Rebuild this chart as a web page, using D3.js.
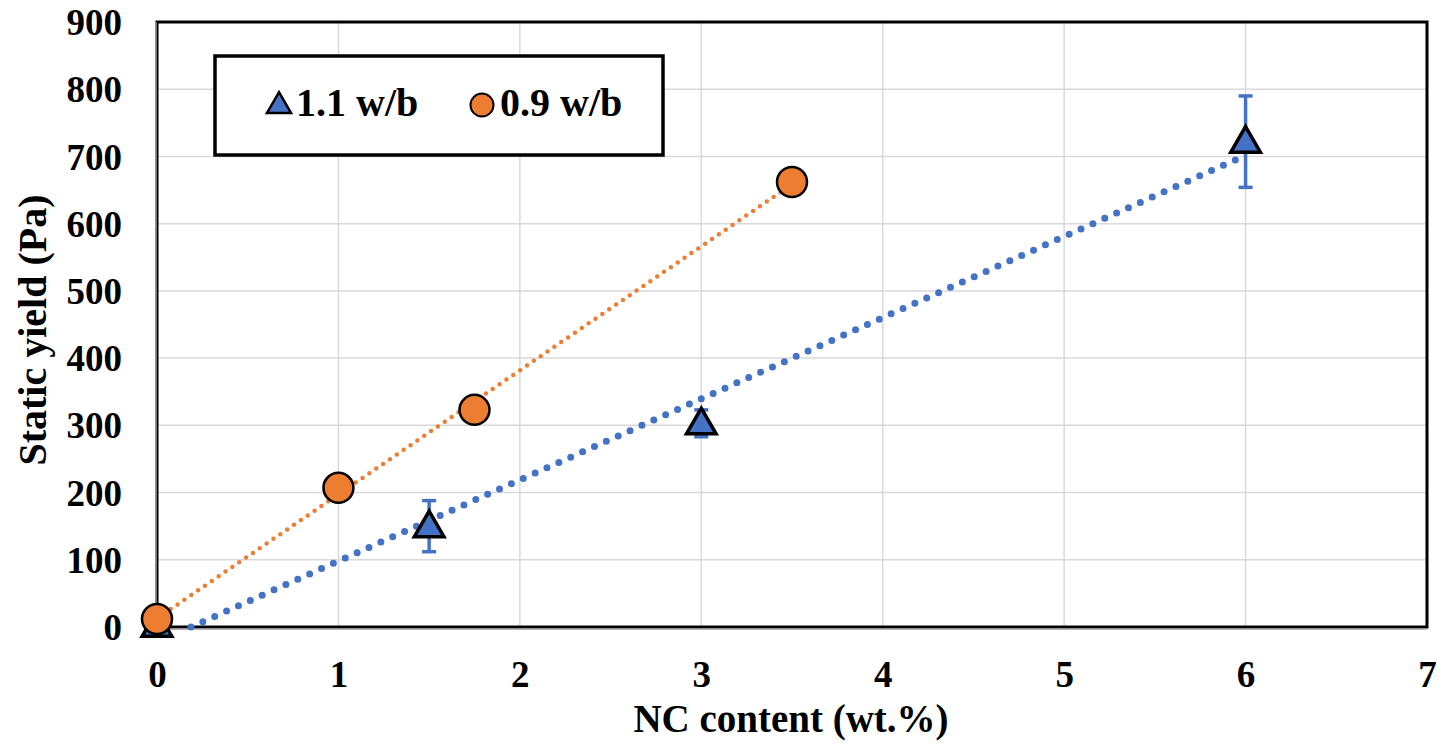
<!DOCTYPE html>
<html><head><meta charset="utf-8">
<script src="https://cdn.jsdelivr.net/npm/d3@7/dist/d3.min.js"></script>
<style>body{margin:0;background:#fff}svg{display:block}text{font-family:"Liberation Serif","DejaVu Serif",serif;font-weight:bold;fill:#000}</style>
</head><body><svg id="c" width="1452" height="744"></svg>
<script>
const xTicks = [0,1,2,3,4,5,6,7];
const yTicks = [0,100,200,300,400,500,600,700,800,900];
const series11X = [0,1.5,3,6];
const series11Y = [2,150,303,722];
const series11Err = [0,38,20,68];
const series09X = [0,1,1.75,3.5];
const series09Y = [12,207,323,662];
const seriesNames = ["1.1 w/b","0.9 w/b"];
const colors = ["#4472C4","#ED7D31"];

const svg = d3.select("#c");
const L=157,R=1427,T=22,B=627;
const x = d3.scaleLinear().domain([0,7]).range([L,R]);
const y = d3.scaleLinear().domain([0,900]).range([B,T]);

// grid
svg.append("g").selectAll("line").data(xTicks.slice(1,-1)).join("line")
 .attr("x1",d=>x(d)).attr("x2",d=>x(d)).attr("y1",T).attr("y2",B)
 .attr("stroke","#D9D9D9").attr("stroke-width",1.5);
svg.append("g").selectAll("line").data(yTicks.slice(1,-1)).join("line")
 .attr("x1",L).attr("x2",R).attr("y1",d=>y(d)).attr("y2",d=>y(d))
 .attr("stroke","#D9D9D9").attr("stroke-width",1.5);

// frame
svg.append("rect").attr("x",L).attr("y",T).attr("width",R-L).attr("height",B-T)
 .attr("fill","none").attr("stroke","#000").attr("stroke-width",3);
svg.append("line").attr("x1",L-1).attr("x2",L-1).attr("y1",T).attr("y2",B+2).attr("stroke","#999").attr("stroke-width",1.5);
svg.append("line").attr("x1",L-1).attr("x2",R).attr("y1",B+2).attr("y2",B+2).attr("stroke","#999").attr("stroke-width",1.5);

// axes labels
const fmt = d3.format("d");
const xa = d3.axisBottom(x).tickValues(xTicks).tickFormat(fmt).tickSize(0).tickPadding(0);
const gx = svg.append("g").attr("transform",`translate(0,${B})`).call(xa);
gx.select(".domain").remove();
gx.selectAll("text").attr("dy",null).attr("y",60).style("font-size","37px").style("font-family",'"Liberation Serif",serif').style("font-weight","bold");
const ya = d3.axisLeft(y).tickValues(yTicks).tickFormat(fmt).tickSize(0).tickPadding(0);
const gy = svg.append("g").attr("transform",`translate(${L-35},0)`).call(ya);
gy.select(".domain").remove();
gy.selectAll("text").attr("dy","0.34em").style("font-size","37px").style("font-family",'"Liberation Serif",serif').style("font-weight","bold");

svg.append("text").attr("x",791).attr("y",732).attr("text-anchor","middle").style("font-size","39px").text("NC content (wt.%)");
svg.append("text").attr("transform",`translate(46,330) rotate(-90)`).attr("text-anchor","middle").style("font-size","40px").text("Static yield (Pa)");

// regression trendlines
function fit(xs,ys){const n=xs.length,mx=d3.mean(xs),my=d3.mean(ys);
 let sxy=0,sxx=0;for(let i=0;i<n;i++){sxy+=(xs[i]-mx)*(ys[i]-my);sxx+=(xs[i]-mx)**2;}
 const m=sxy/sxx;return [m,my-m*mx];}
function trend(xs,ys,col,w,gap){
 const [m,b]=fit(xs,ys);
 let x0=d3.min(xs), x1=d3.max(xs);
 if(m*x0+b<0) x0=-b/m;
 svg.append("line").attr("x1",x(x0)).attr("y1",y(m*x0+b)).attr("x2",x(x1)).attr("y2",y(m*x1+b))
  .attr("stroke",col).attr("stroke-width",w).attr("stroke-linecap","round").attr("stroke-dasharray",`0 ${gap}`);
}
trend(series09X,series09Y,colors[1],4.5,8.3);
trend(series11X,series11Y,colors[0],7,13);

// error bars
const eb = svg.append("g").attr("stroke",colors[0]).attr("stroke-width",3.5);
series11X.forEach((d,i)=>{ if(!series11Err[i])return;
 const yt=y(series11Y[i]+series11Err[i]), yb=y(series11Y[i]-series11Err[i]);
 eb.append("line").attr("x1",x(d)).attr("x2",x(d)).attr("y1",yt).attr("y2",yb);
 eb.append("line").attr("x1",x(d)-7).attr("x2",x(d)+7).attr("y1",yt).attr("y2",yt);
 eb.append("line").attr("x1",x(d)-7).attr("x2",x(d)+7).attr("y1",yb).attr("y2",yb);
});

const tri = d3.symbol().type(d3.symbolTriangle).size(380);
svg.append("g").selectAll("path").data(series11X).join("path")
 .attr("d",tri).attr("transform",(d,i)=>`translate(${x(d)},${y(series11Y[i])+2})`)
 .attr("fill",colors[0]).attr("stroke","#000").attr("stroke-width",3.5).attr("stroke-linejoin","miter");
svg.append("g").selectAll("circle").data(series09X).join("circle")
 .attr("cx",d=>x(d)).attr("cy",(d,i)=>y(series09Y[i])).attr("r",15)
 .attr("fill",colors[1]).attr("stroke","#000").attr("stroke-width",2.5);

// legend
svg.append("rect").attr("x",215).attr("y",56).attr("width",448).attr("height",99)
 .attr("fill","#fff").attr("stroke","#000").attr("stroke-width",3.5);
const triS = d3.symbol().type(d3.symbolTriangle).size(250);
svg.append("path").attr("d",triS).attr("transform","translate(279,106)").attr("fill",colors[0]).attr("stroke","#000").attr("stroke-width",2.5);
svg.append("text").attr("x",296).attr("y",116).style("font-size","40px").text(seriesNames[0]);
svg.append("circle").attr("cx",482).attr("cy",105).attr("r",11.5).attr("fill",colors[1]).attr("stroke","#000").attr("stroke-width",2);
svg.append("text").attr("x",500).attr("y",116).style("font-size","40px").text(seriesNames[1]);
</script></body></html>
